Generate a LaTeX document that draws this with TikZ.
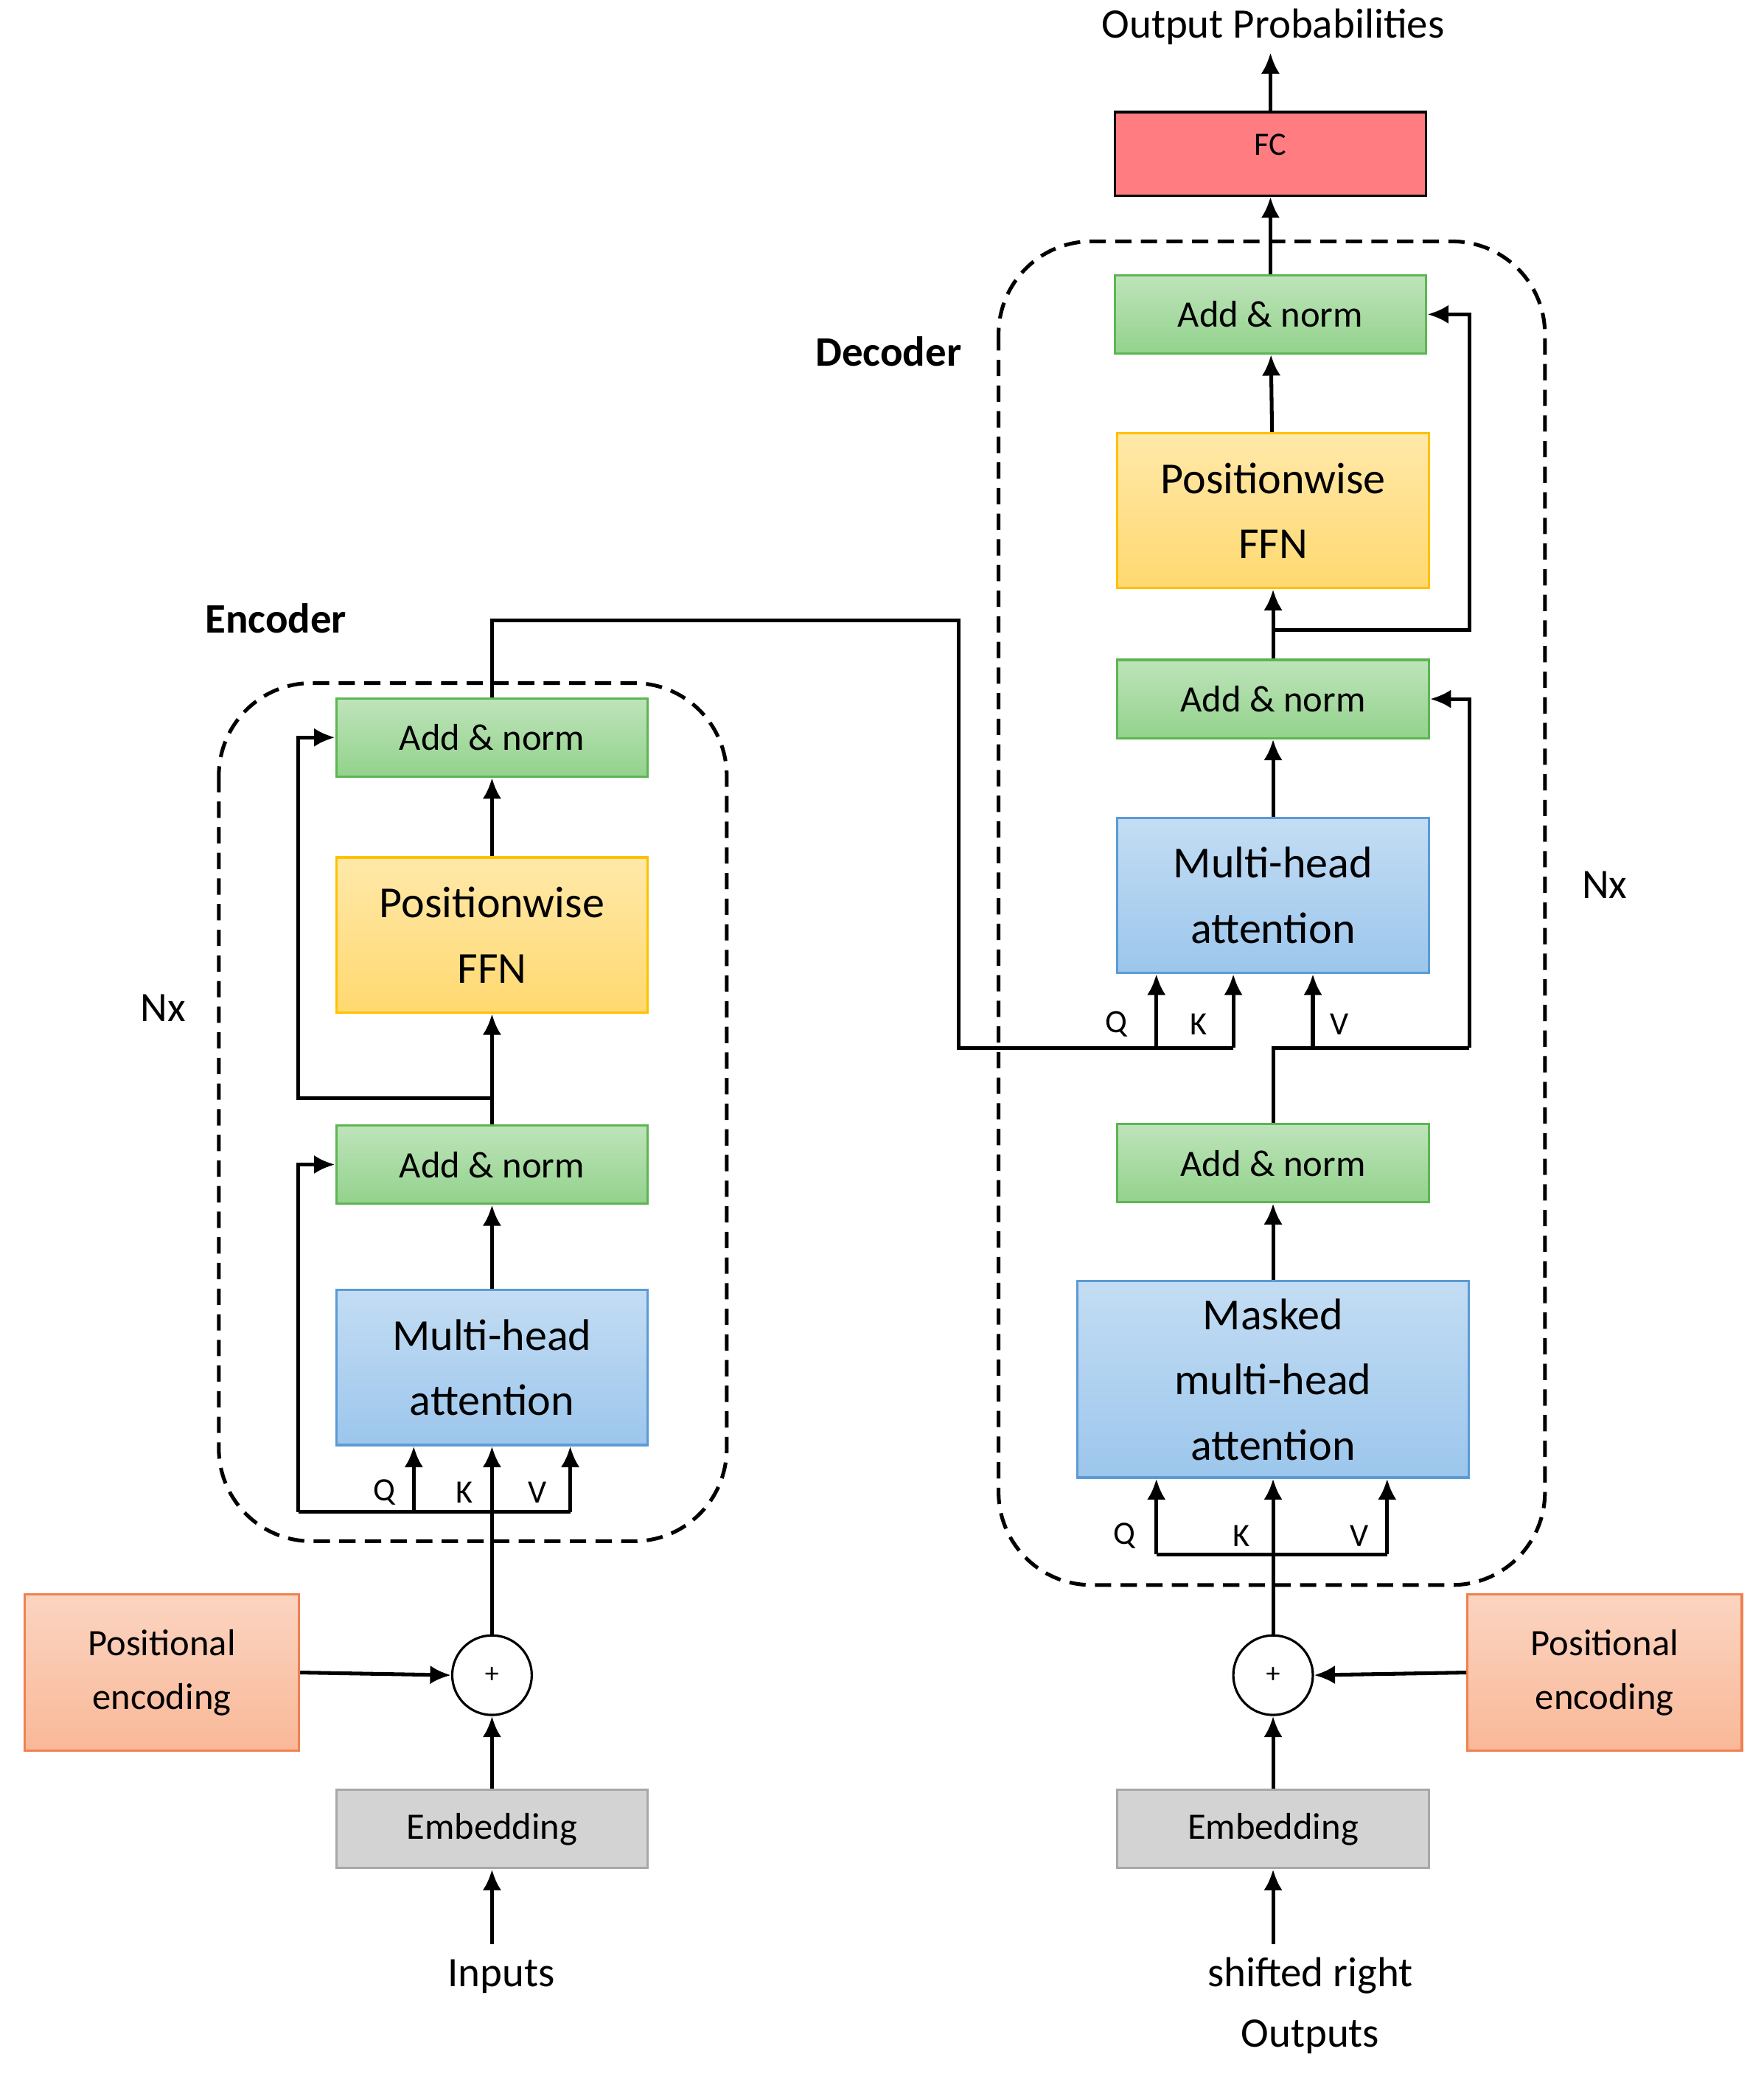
\documentclass[tikz,border=0pt]{standalone}
\usepackage{fontspec}
\setmainfont{Carlito}
\usetikzlibrary{arrows.meta,positioning}
\definecolor{normgreen}{HTML}{93D28C}
\definecolor{normedge}{HTML}{5DB553}
\definecolor{ffnyellow}{HTML}{FFD970}
\definecolor{ffnedge}{HTML}{FFC000}
\definecolor{attblue}{HTML}{9CC6EC}
\definecolor{attedge}{HTML}{5B9BD5}
\definecolor{fcred}{HTML}{FF7C80}
\definecolor{posorange}{HTML}{F9B898}
\definecolor{posedge}{HTML}{F08050}
\definecolor{embgray}{HTML}{D3D3D3}
\definecolor{embedge}{HTML}{A8A8A8}
\tikzset{
    box/.style = {rectangle, draw, line width=1pt, text centered,
        minimum width=4.7cm, minimum height=1.18cm, inner sep=0pt},
    norm/.style = {box, top color=normgreen!60, bottom color=normgreen, draw=normedge,
        font=\fontsize{16}{18}\selectfont, text depth=0pt, anchor=center},
    ffn/.style = {box, top color=ffnyellow!60, bottom color=ffnyellow, draw=ffnedge,
        minimum height=2.34cm, text width=4.5cm, font=\fontsize{19}{28}\selectfont},
    att/.style = {box, top color=attblue!60, bottom color=attblue, draw=attedge,
        minimum height=2.34cm, text width=4.5cm, font=\fontsize{19}{28}\selectfont},
    posenc/.style = {box, top color=posorange!60, bottom color=posorange, draw=posedge,
        minimum width=4.14cm, minimum height=2.36cm, text width=4cm, font=\fontsize{16}{23}\selectfont},
    emb/.style = {box, fill=embgray, draw=embedge, font=\fontsize{16}{18}\selectfont},
    adder/.style = {circle, draw, line width=1pt, minimum size=1.2cm, inner sep=0pt, font=\large},
    stack/.style = {draw, dash pattern=on 7pt off 4pt, line width=1.6pt, rounded corners=1.4cm},
    flow/.style = {line width=1.6pt, -{Latex[length=9pt,width=8pt]}},
    wire/.style = {line width=1.6pt},
    lbl/.style = {font=\fontsize{18}{22}\selectfont},
    qkv/.style = {font=\fontsize{14}{16}\selectfont}
}
\begin{document}
\begin{tikzpicture}[x=0.02cm, y=-0.02cm]
    \useasboundingbox (0,0) rectangle (1330,1572);

    % encoder
    \draw[stack] (165,515) rectangle (548,1162);
    \node[font=\fontsize{18}{22}\selectfont\bfseries] at (208,466) {Encoder};
    \node[lbl] at (123,760) {Nx};
    \node[norm] (encNormTop) at (371,556) {Add \& norm};
    \node[ffn] (encFfn) at (371,705) {Positionwise\\FFN};
    \node[norm] (encNormBot) at (371,878) {Add \& norm};
    \node[att] (encAtt) at (371,1031) {Multi-head\\attention};
    \node[adder] (encAdd) at (371,1263) {+};
    \node[posenc] (encPos) at (122,1261) {Positional\\encoding};
    \node[emb] (encEmb) at (371,1379) {Embedding};
    \node[lbl] (inputs) at (378,1490) {Inputs};

    \coordinate (encIn) at (371,1466);
    \coordinate (encQ) at (312,1140);
    \coordinate (encV) at (430,1140);
    \coordinate (encLeft) at (225,1140);
    \coordinate (encSplit) at (371,828);
    \coordinate (encOut) at (371,468);

    \draw[flow] (encIn) -- (encEmb);
    \draw[flow] (encEmb) -- (encAdd);
    \draw[flow] (encPos.east) -- (encAdd.west);
    \draw[flow] (encAdd) -- (encAtt.south);
    \draw[wire] (encLeft) -- (encV);
    \draw[flow] (encQ) -- (encQ |- encAtt.south);
    \draw[flow] (encV) -- (encV |- encAtt.south);
    \draw[flow] (encLeft) |- (encNormBot.west);
    \draw[flow] (encAtt) -- (encNormBot);
    \draw[flow] (encNormBot) -- (encFfn);
    \draw[flow] (encSplit) -| (225,700) |- (encNormTop.west);
    \draw[flow] (encFfn) -- (encNormTop);
    \node[qkv] at (290,1125) {Q};
    \node[qkv] at (350,1125) {K};
    \node[qkv] at (405,1125) {V};

    % decoder
    \draw[stack] (753,182) rectangle (1165,1195);
    \node[font=\fontsize{18}{22}\selectfont\bfseries] at (670,265) {Decoder};
    \node[lbl] at (1210,667) {Nx};
    \node[lbl] (outProb) at (960,20) {Output Probabilities};
    \node[box, fill=fcred, draw=black, minimum height=1.26cm, font=\fontsize{14}{16}\selectfont,
        text depth=0pt] (fc) at (958,116) {\raisebox{8pt}{FC}};
    \node[norm] (decNormTop) at (958,237) {Add \& norm};
    \node[ffn] (decFfn) at (960,385) {Positionwise\\FFN};
    \node[norm] (decNormMid) at (960,527) {Add \& norm};
    \node[att] (decAtt) at (960,675) {Multi-head\\attention};
    \node[norm] (decNormBot) at (960,877) {Add \& norm};
    \node[att, minimum width=5.9cm, minimum height=2.96cm, text width=5.6cm] (decMask) at (960,1040)
        {Masked\\multi-head\\attention};
    \node[adder] (decAdd) at (960,1263) {+};
    \node[posenc] (decPos) at (1210,1261) {Positional\\encoding};
    \node[emb] (decEmb) at (960,1379) {Embedding};
    \node[align=center, font=\fontsize{18}{22}\selectfont] (outputs) at (988,1512)
        {shifted right\\[4pt]Outputs};

    \coordinate (decIn) at (960,1466);
    \coordinate (decQ) at (872,1172);
    \coordinate (decV) at (1046,1172);
    \coordinate (crossQ) at (872,790);
    \coordinate (crossK) at (930,790);
    \coordinate (crossV) at (990,790);
    \coordinate (decJoin) at (960,790);
    \coordinate (decSplit) at (960,475);
    \coordinate (decRes) at (1108,790);

    \draw[flow] (decIn) -- (decEmb);
    \draw[flow] (decEmb) -- (decAdd);
    \draw[flow] (decPos.west) -- (decAdd.east);
    \draw[flow] (decAdd) -- (decMask.south);
    \draw[wire] (decQ) -- (decV);
    \draw[flow] (decQ) -- (decQ |- decMask.south);
    \draw[flow] (decV) -- (decV |- decMask.south);
    \node[qkv] at (848,1158) {Q};
    \node[qkv] at (936,1158) {K};
    \node[qkv] at (1025,1158) {V};
    \draw[flow] (decMask) -- (decNormBot);
    \draw[wire] (decNormBot) -- (decJoin) -- (decRes);
    \draw[flow] (decRes) |- (decNormMid.east);
    \draw[flow] (crossV) -- (crossV |- decAtt.south);
    % encoder output into cross attention
    \draw[wire] (encNormTop.north) -- (encOut) -| (723,790) -- (crossK);
    \draw[flow] (crossQ) -- (crossQ |- decAtt.south);
    \draw[flow] (crossK) -- (crossK |- decAtt.south);
    \node[qkv] at (842,772) {Q};
    \node[qkv] at (904,772) {K};
    \node[qkv] at (1010,772) {V};
    \draw[flow] (decAtt) -- (decNormMid);
    \draw[flow] (decNormMid) -- (decFfn);
    \draw[flow] (decSplit) -| (1108,400) |- (decNormTop.east);
    \draw[flow] (decFfn) -- (decNormTop);
    \draw[flow] (decNormTop) -- (fc);
    \draw[flow] (fc) -- (fc.north |- outProb.south);
\end{tikzpicture}
\end{document}
